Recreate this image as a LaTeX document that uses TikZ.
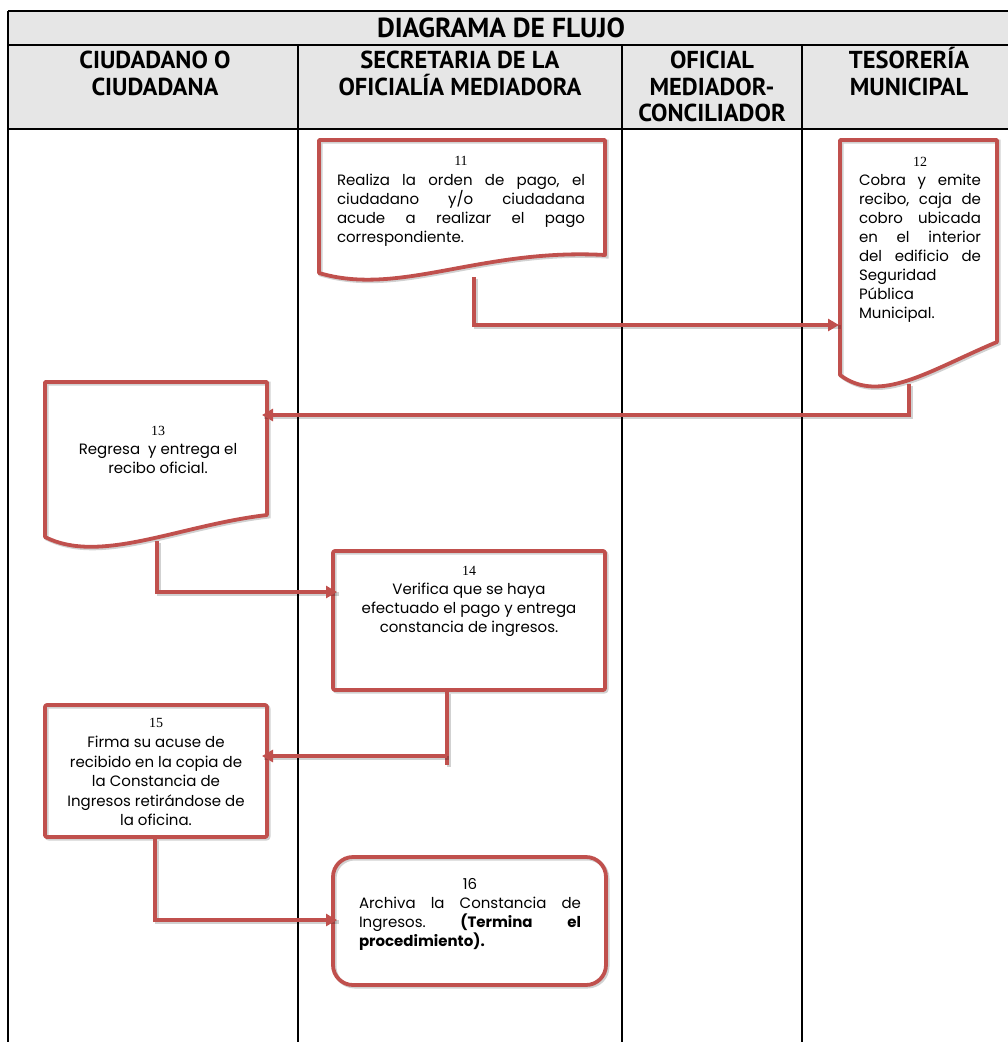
\documentclass[tikz,border=0pt]{standalone}
\usepackage{fontspec}
\setmainfont{Poppins}
\newfontfamily\hdrfont{PT Sans}
\newfontfamily\numfont{Liberation Serif}
\usetikzlibrary{arrows.meta}
\definecolor{docred}{HTML}{C0504D}
\definecolor{hdrgray}{HTML}{E6E6E6}
\begin{document}
\begin{tikzpicture}[x=1pt,y=-1pt,
  gridline/.style={line width=1.2pt, black},
  shadowed/.style={preaction={draw=black, draw opacity=0.18, line width=3.8pt, transform canvas={shift={(1.6pt,-1.6pt)}}}},
  redbox/.style={shadowed, draw=docred, line width=3.8pt, line join=round, outer sep=0pt},
  redline/.style={shadowed, draw=docred, line width=3.8pt},
  conn/.style={draw=docred, line width=3.8pt, -{Triangle[length=11pt,width=12pt]},
    preaction={draw=black, draw opacity=0.18, line width=3.8pt, -, transform canvas={shift={(1.6pt,-1.6pt)}}}},
  hdr/.style={font=\hdrfont\bfseries\fontsize{24.5}{26.5}\selectfont, align=center, anchor=north, inner sep=0pt},
  body/.style={font=\fontsize{15}{19}\selectfont, align=center, anchor=north, inner sep=0pt},
  jbody/.style={font=\fontsize{15}{19}\selectfont, align=left, anchor=north, inner sep=0pt},
  numtxt/.style={}
]
\useasboundingbox (0,0) rectangle (1008,1042);
% header
\fill[hdrgray] (8,11) rectangle (1012,129);
\draw[gridline] (8,11) -- (1012,11);
\draw[gridline] (8,45) -- (1012,45);
\draw[gridline] (8,129) -- (1012,129);
\draw[gridline] (8,11) -- (8,1042);
\draw[gridline] (298,45) -- (298,1042);
\draw[gridline] (622,45) -- (622,1042);
\draw[gridline] (802,45) -- (802,1042);
\node[font=\hdrfont\bfseries\fontsize{27.5}{30}\selectfont, inner sep=0pt] (title) at (501,28) {DIAGRAMA DE FLUJO};
\node[hdr] (h1) at (155,47) {\vphantom{Í}CIUDADANO O\\CIUDADANA};
\node[hdr] (h2) at (460,47) {\vphantom{Í}SECRETARIA DE LA\\OFICIALÍA MEDIADORA};
\node[hdr] (h3) at (712,47) {\vphantom{Í}OFICIAL\\MEDIADOR-\\CONCILIADOR};
\node[hdr] (h4) at (909,47) {\vphantom{Í}TESORERÍA\\MUNICIPAL};

% doc 11
\draw[redbox] (605,255) -- (605,140) -- (319,140) -- (319,273) .. controls (400,297) and (480,248) .. cycle;
\node[jbody, text width=248pt] (t11) at (461,156) {%
\makebox[248pt]{\numfont\fontsize{14}{19}\selectfont 11}\\[1.5pt]
\makebox[248pt][l]{Realiza\hfill la\hfill orden\hfill de\hfill pago,\hfill el}\\
\makebox[248pt][l]{ciudadano\hfill y/o\hfill ciudadana}\\
\makebox[248pt][l]{acude\hfill a\hfill realizar\hfill el\hfill pago}\\
correspondiente.};

% doc 12
\draw[redbox] (997,342) -- (997,140) -- (840,140) -- (840,375) .. controls (880,405) and (930,370) .. cycle;
\node[jbody, text width=122pt] (t12) at (920,157) {%
\makebox[122pt]{\numfont\fontsize{14}{19}\selectfont 12}\\
\makebox[122pt][l]{Cobra\hfill y\hfill emite}\\
\makebox[122pt][l]{recibo,\hfill caja\hfill de}\\
\makebox[122pt][l]{cobro\hfill ubicada}\\
\makebox[122pt][l]{en\hfill el\hfill interior}\\
\makebox[122pt][l]{del\hfill edificio\hfill de}\\
Seguridad\\
Pública\\
Municipal.};

% doc 13
\draw[redbox] (267,515) -- (267,382) -- (45,382) -- (45,537) .. controls (100,565) and (180,525) .. cycle;
\node[body] (t13) at (158,426) {{\numfont\fontsize{14}{19}\selectfont 13}\\Regresa~ y entrega el\\recibo oficial.};

% box 14
\node[redbox, rounded corners=2pt, minimum width=272pt, minimum height=139pt, anchor=north west, inner sep=0pt] (b14) at (333,551) {};
\node[body] (t14) at (469,566) {{\numfont\fontsize{14}{19}\selectfont 14}\\Verifica que se haya\\efectuado el pago y entrega\\constancia de ingresos.};

% box 15
\node[redbox, rounded corners=2pt, minimum width=222pt, minimum height=132pt, anchor=north west, inner sep=0pt] (b15) at (45,705) {};
\node[body, font=\fontsize{15}{19.4}\selectfont] (t15) at (156,718) {{\numfont\fontsize{14}{19}\selectfont 15}\\[1pt]Firma su acuse de\\recibido en la copia de\\la Constancia de\\Ingresos retirándose de\\la oficina.};

% box 16
\node[redbox, rounded corners=20pt, minimum width=273pt, minimum height=128pt, anchor=north west, inner sep=0pt] (b16) at (333,857) {};
\node[jbody, text width=222pt] (t16) at (470,878) {%
\makebox[222pt]{16}\\
\makebox[222pt][l]{Archiva\hfill la\hfill Constancia\hfill de}\\
\makebox[222pt][l]{Ingresos.\hfill\textbf{(Termina}\hfill\textbf{el}}\\
\textbf{procedimiento).}};

% connectors
\coordinate (s11) at (474,277);
\coordinate (e11) at (839,325);
\draw[conn] (s11) |- (e11);
\coordinate (s12) at (909,384);
\coordinate (e12) at (262,415);
\draw[conn] (s12) |- (e12);
\coordinate (s13) at (157,541);
\coordinate (e13) at (337,592);
\draw[conn] (s13) |- (e13);
\coordinate (s14) at (447,692);
\coordinate (k14) at (447,765);
\coordinate (m14) at (447,756);
\coordinate (e14) at (262,756);
\draw[redline] (s14) -- (k14);
\draw[conn] (m14) -- (e14);
\coordinate (s15) at (155,839);
\coordinate (e15) at (337,920);
\draw[conn] (s15) |- (e15);
\end{tikzpicture}
\end{document}
